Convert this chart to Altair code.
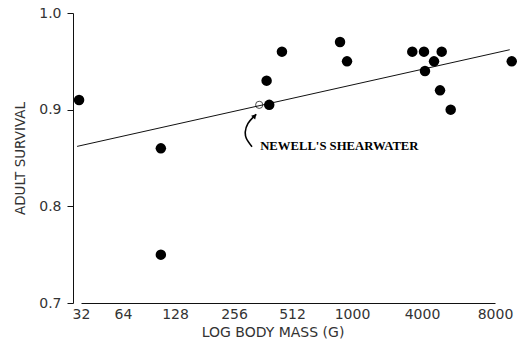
import altair as alt
import pandas as pd

# Filled points: body mass (g) and adult survival
mass = [31, 106, 106, 378, 390, 454, 875, 946, 3300, 4076, 4115, 4484, 4823, 4747, 5253, 9378]
survival = [0.91, 0.86, 0.75, 0.93, 0.905, 0.96, 0.97, 0.95, 0.96, 0.96, 0.94, 0.95, 0.96, 0.92, 0.90, 0.95]

# Newell's Shearwater (open point)
newell_mass = [346]
newell_surv = [0.905]

# Regression line end points
fit_mass = [30, 9200]
fit_surv = [0.862, 0.962]

# Axis ticks (as printed on the original figure)
x_ticks = [32, 64, 128, 256, 512, 1000, 4000, 8000]
x_tick_pos = [8, 50, 102, 161, 219, 279, 349, 422]
y_ticks = [0.7, 0.8, 0.9, 1.0]

# Annotation
label_text = ["NEWELL'S SHEARWATER"]
label_mass = [350]
label_surv = [0.862]
arrow_mass = [317.5, 296.5, 293, 302.6, 334]
arrow_surv = [0.8617, 0.8704, 0.8772, 0.8859, 0.8952]
head_mass = [328]
head_surv = [0.8935]

pts = pd.DataFrame({"mass": mass, "survival": survival})
newell = pd.DataFrame({"mass": newell_mass, "survival": newell_surv})
fit = pd.DataFrame({"mass": fit_mass, "survival": fit_surv})
lab = pd.DataFrame({"mass": label_mass, "survival": label_surv, "text": label_text})
arrow = pd.DataFrame({"mass": arrow_mass, "survival": arrow_surv, "o": list(range(len(arrow_mass)))})
head = pd.DataFrame({"mass": head_mass, "survival": head_surv})

FONT = "DejaVu Sans"

xscale = alt.Scale(type="log", domain=x_ticks, range=x_tick_pos, nice=False)
yscale = alt.Scale(domain=[0.7, 1.0], zero=False, nice=False)

xaxis = alt.Axis(
    values=x_ticks, format="d", ticks=False, grid=False, domainColor="#111", labelFont=FONT,
    labelFontSize=14, labelColor="#333", labelPadding=4, title="LOG BODY MASS (G)",
    titleFont=FONT, titleFontSize=14, titleFontWeight="normal", titleColor="#333",
    titleX=199.5, titleY=33, titleAlign="center", titleBaseline="alphabetic",
    labelFlush=False, labelOverlap=False,
)
yaxis = alt.Axis(
    values=y_ticks, format=".1f", grid=False, domainColor="#111", tickColor="#111",
    tickSize=6, labelFont=FONT, labelFontSize=14, labelColor="#333", labelPadding=6,
    title="ADULT SURVIVAL", titleFont=FONT, titleFontSize=13.5, titleFontWeight="normal",
    titleColor="#333", titleX=-53, titleY=145, titleAngle=270, titleAlign="center",
    titleBaseline="middle",
)

X = alt.X("mass:Q", scale=xscale, axis=xaxis)
Y = alt.Y("survival:Q", scale=yscale, axis=yaxis)
Xn = alt.X("mass:Q", scale=xscale)
Yn = alt.Y("survival:Q", scale=yscale)

line = alt.Chart(fit).mark_line(color="#111", strokeWidth=1).encode(x=X, y=Y)
dots = alt.Chart(pts).mark_circle(color="black", size=110, opacity=1).encode(x=Xn, y=Yn)
open_pt = alt.Chart(newell).mark_point(shape="circle", filled=False, color="black", size=52, strokeWidth=1).encode(x=Xn, y=Yn)
arr = alt.Chart(arrow).mark_line(color="black", strokeWidth=1.6, interpolate="catmull-rom").encode(x=Xn, y=Yn, order="o:Q")
arrhead = alt.Chart(head).mark_point(shape="triangle-up", filled=True, color="black", size=30, angle=43, opacity=1).encode(x=Xn, y=Yn)
txt = alt.Chart(lab).mark_text(font="Liberation Serif", fontWeight="bold", fontSize=12.7, align="left", baseline="middle", color="black").encode(x=Xn, y=Yn, text="text:N")

chart = alt.layer(line, dots, open_pt, arr, arrhead, txt).properties(
    width=440, height=290,
    autosize=alt.AutoSizeParams(type="none"),
    padding={"left": 73, "top": 13, "right": 5, "bottom": 42},
    background="white",
).configure_view(stroke=None)

chart.save("out.html", embed_options={"renderer": "svg", "actions": False})
